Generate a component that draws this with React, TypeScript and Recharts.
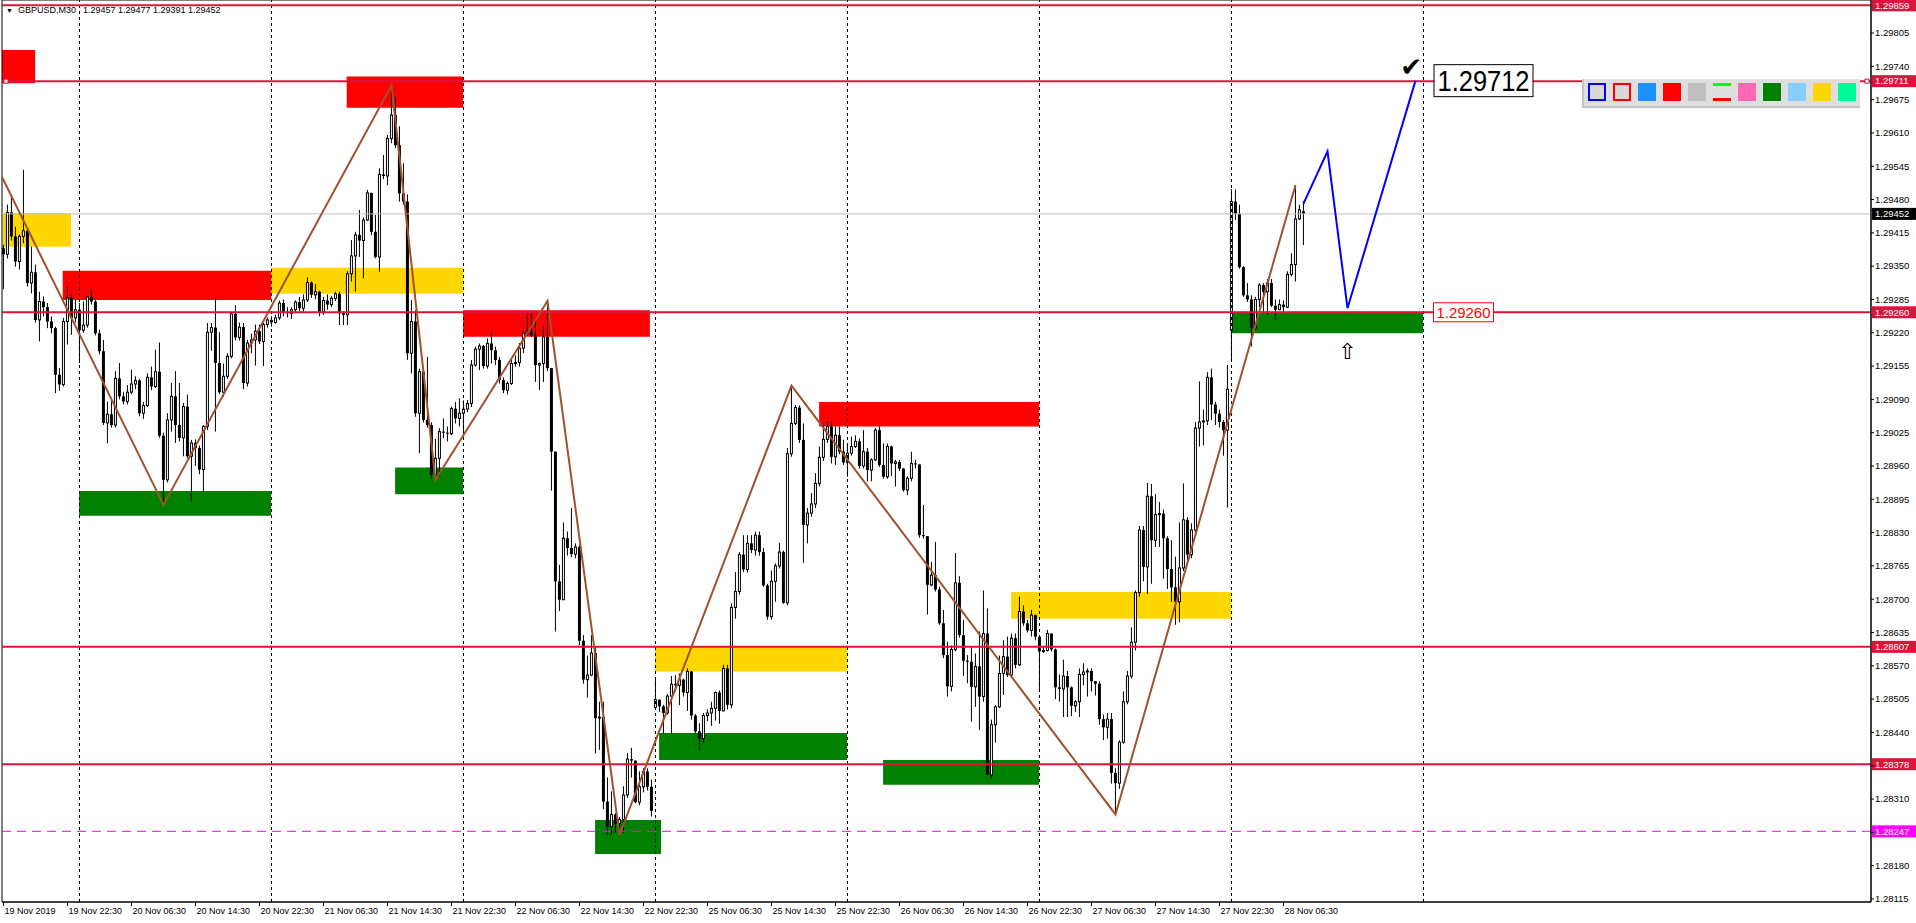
import React from "react"
import {
  ComposedChart,
  Bar,
  Line,
  XAxis,
  YAxis,
  ReferenceLine,
  ReferenceArea,
  ReferenceDot,
} from "recharts"

// prices are kept in points above 1.28000 (1452 -> 1.29452)
const BASE = 1.28
const fmt = (p: number) => (BASE + p / 100000).toFixed(5)

const firstOpen = 1385
// bars where the open does not follow the previous close (weekend / daily gaps)
const gapOpens: Record<number, number> = { 163: 489, 307: 1225, 325: 1457 }

// GBPUSD M30 bars as [close, high, low]
const nov19 = [
  [1373, 1392, 1305], [1455, 1470, 1365], [1408, 1486, 1400], [1359, 1427, 1349], [1408, 1412, 1343],
  [1419, 1538, 1395], [1317, 1422, 1310], [1338, 1388, 1297], [1245, 1353, 1240], [1281, 1300, 1203],
  [1270, 1291, 1252], [1242, 1278, 1229], [1229, 1252, 1219], [1138, 1232, 1102], [1119, 1151, 1107],
  [1242, 1249, 1115], [1288, 1310, 1197], [1249, 1295, 1216], [1265, 1285, 1240],
]
const nov20 = [
  [1225, 1278, 1161], [1235, 1281, 1220], [1290, 1292, 1230], [1281, 1304, 1275], [1219, 1284, 1215],
  [1184, 1226, 1178], [1044, 1206, 1040], [1061, 1086, 1004], [1040, 1090, 1035], [1131, 1145, 1035],
  [1096, 1161, 1090], [1086, 1105, 1080], [1104, 1118, 1080], [1120, 1148, 1100], [1127, 1135, 1110],
  [1063, 1130, 1057], [1078, 1085, 1052], [1133, 1141, 1075], [1115, 1154, 1108], [1144, 1187, 1112],
  [1019, 1201, 1015], [933, 1025, 884], [1050, 1063, 928], [1096, 1122, 1027], [1040, 1145, 1005],
  [1015, 1122, 1008], [1076, 1083, 979], [979, 1099, 975], [1005, 1011, 891], [995, 1012, 960],
  [953, 1000, 944], [1037, 1040, 910], [1221, 1239, 1030], [1230, 1239, 1185], [1161, 1288, 1027],
  [1104, 1221, 1100], [1135, 1160, 1095], [1174, 1180, 1130], [1257, 1260, 1170], [1211, 1274, 1205],
  [1231, 1240, 1205], [1122, 1239, 1110], [1200, 1206, 1115], [1206, 1218, 1180], [1223, 1236, 1156],
  [1203, 1236, 1198], [1236, 1240, 1155], [1245, 1250, 1230],
]
const nov21 = [
  [1240, 1252, 1232], [1249, 1255, 1238], [1278, 1283, 1245], [1260, 1285, 1252], [1258, 1270, 1250],
  [1265, 1270, 1247], [1280, 1283, 1258], [1268, 1290, 1262], [1284, 1295, 1260], [1318, 1328, 1280],
  [1294, 1320, 1288], [1300, 1315, 1285], [1261, 1302, 1252], [1283, 1290, 1255], [1275, 1295, 1265],
  [1287, 1292, 1270], [1296, 1300, 1282], [1258, 1300, 1235], [1255, 1262, 1235], [1335, 1340, 1235],
  [1370, 1401, 1320], [1411, 1417, 1300], [1400, 1460, 1368], [1440, 1445, 1326], [1493, 1499, 1438],
  [1417, 1493, 1410], [1368, 1450, 1365], [1529, 1541, 1339], [1526, 1567, 1520], [1599, 1606, 1508],
  [1645, 1703, 1590], [1586, 1681, 1580], [1492, 1623, 1476], [1476, 1551, 1470], [1180, 1490, 1167],
  [1242, 1284, 1141], [1063, 1264, 1056], [1144, 1150, 985], [1050, 1150, 1045], [1040, 1173, 1035],
  [943, 1045, 935], [975, 1013, 933], [1027, 1034, 940], [1025, 1053, 1014], [1023, 1037, 1008],
  [1072, 1076, 1020], [1053, 1085, 1043], [1063, 1092, 1037],
]
const nov22 = [
  [1071, 1088, 1028], [1082, 1089, 1065], [1157, 1167, 1075], [1188, 1193, 1154], [1194, 1199, 1147],
  [1155, 1196, 1150], [1199, 1209, 1150], [1186, 1222, 1160], [1167, 1193, 1157], [1128, 1173, 1121],
  [1108, 1133, 1102], [1121, 1125, 1100], [1160, 1170, 1118], [1162, 1176, 1154], [1190, 1200, 1154],
  [1219, 1225, 1180], [1222, 1261, 1215], [1215, 1261, 1212], [1157, 1242, 1124], [1160, 1162, 1108],
  [1212, 1235, 1124], [1151, 1282, 1145], [988, 1151, 912], [735, 988, 637], [699, 767, 677],
  [819, 850, 699], [800, 832, 785], [788, 878, 782], [802, 809, 780], [619, 806, 610],
  [543, 630, 535], [552, 590, 508], [595, 630, 550], [468, 608, 399], [470, 500, 406],
  [305, 500, 290], [256, 352, 240], [280, 325, 240], [262, 283, 244], [270, 275, 240],
  [318, 335, 244], [388, 400, 312], [385, 410, 352], [304, 364, 302], [334, 364, 298],
  [364, 370, 323], [334, 370, 327], [287, 348, 276],
]
const nov25 = [
  [504, 547, 486], [491, 494, 480], [478, 494, 438], [511, 515, 475], [534, 550, 438],
  [532, 552, 520], [543, 555, 493], [518, 545, 510], [559, 565, 482], [473, 560, 465],
  [442, 476, 438], [428, 458, 406], [473, 478, 420], [478, 485, 462], [487, 500, 453],
  [518, 520, 463], [482, 522, 457], [565, 572, 482], [494, 572, 485], [684, 692, 487],
  [715, 753, 662], [787, 792, 709], [758, 825, 753], [809, 825, 752], [796, 825, 790],
  [825, 832, 785], [792, 832, 785], [727, 800, 724], [666, 730, 660], [735, 756, 660],
  [765, 770, 695], [792, 810, 760], [693, 795, 691], [984, 995, 688], [1043, 1117, 978],
  [1074, 1079, 1040], [1011, 1078, 1005], [845, 1043, 771], [868, 878, 809], [886, 907, 861],
  [926, 946, 878], [977, 998, 920], [1012, 1043, 970], [1037, 1047, 1005], [978, 1047, 965],
  [1020, 1037, 962], [988, 1037, 983], [967, 1011, 962],
]
const nov26 = [
  [985, 1004, 939], [998, 1017, 980], [1008, 1020, 995], [960, 1014, 955], [988, 1030, 955],
  [952, 995, 930], [972, 975, 930], [1030, 1034, 970], [962, 1037, 958], [939, 1004, 935],
  [998, 1004, 935], [965, 1000, 940], [968, 972, 920], [955, 972, 950], [913, 956, 910],
  [936, 940, 903], [965, 988, 930], [963, 972, 955], [825, 960, 820], [823, 884, 818],
  [728, 815, 670], [747, 773, 725], [719, 812, 715], [653, 724, 650], [591, 679, 585],
  [530, 617, 510], [602, 610, 520], [732, 790, 598], [630, 745, 625], [580, 660, 550],
  [578, 591, 536], [529, 607, 461], [569, 594, 490], [510, 637, 445], [633, 717, 500],
  [357, 682, 357], [455, 465, 350], [490, 493, 420], [555, 590, 488], [588, 620, 513],
  [552, 627, 548], [624, 633, 548], [572, 633, 565], [676, 705, 570], [653, 688, 648],
  [639, 660, 635], [669, 679, 627], [627, 670, 620],
]
const nov27 = [
  [598, 630, 523], [600, 607, 595], [633, 640, 598], [602, 633, 598], [528, 604, 505],
  [525, 553, 500], [550, 582, 470], [528, 560, 470], [492, 530, 472], [500, 503, 480],
  [553, 565, 470], [558, 575, 532], [560, 565, 510], [540, 565, 520], [535, 540, 512],
  [466, 540, 455], [450, 475, 425], [466, 478, 428], [361, 478, 340], [341, 370, 280],
  [421, 425, 330], [500, 520, 418], [550, 560, 495], [616, 645, 545], [713, 717, 600],
  [835, 843, 705], [763, 843, 735], [901, 927, 710], [815, 925, 730], [865, 905, 802],
  [867, 890, 802], [819, 875, 740], [759, 823, 720], [723, 815, 695], [695, 783, 650],
  [761, 850, 655], [855, 926, 755], [787, 860, 767], [835, 848, 780], [1034, 1046, 825],
  [1046, 1125, 998], [1048, 1070, 1000], [1133, 1143, 1040], [1080, 1150, 1050], [1062, 1085, 1040],
  [1046, 1070, 1035], [1030, 1050, 980], [1110, 1157, 879],
]
const nov28 = [
  [1476, 1500, 1165], [1452, 1500, 1440], [1348, 1470, 1345], [1293, 1350, 1290], [1285, 1317, 1280],
  [1229, 1293, 1193], [1285, 1290, 1225], [1313, 1317, 1270], [1300, 1317, 1260], [1317, 1325, 1255],
  [1273, 1325, 1270], [1265, 1285, 1245], [1275, 1285, 1265], [1270, 1283, 1258], [1334, 1340, 1268],
  [1353, 1375, 1330], [1442, 1508, 1320], [1460, 1470, 1440], [1452, 1477, 1391],
]
const days = [nov19, nov20, nov21, nov22, nov25, nov26, nov27, nov28]

// time axis: one label every 16 bars, day boundaries every 48 bars
const timeTicks = [0, 16, 32, 48, 64, 80, 96, 112, 128, 144, 160, 176, 192, 208, 224, 240, 256, 272, 288, 304, 320]
const timeLabels = [
  "19 Nov 2019", "19 Nov 22:30", "20 Nov 06:30", "20 Nov 14:30", "20 Nov 22:30", "21 Nov 06:30",
  "21 Nov 14:30", "21 Nov 22:30", "22 Nov 06:30", "22 Nov 14:30", "22 Nov 22:30", "25 Nov 06:30",
  "25 Nov 14:30", "25 Nov 22:30", "26 Nov 06:30", "26 Nov 14:30", "26 Nov 22:30", "27 Nov 06:30",
  "27 Nov 14:30", "27 Nov 22:30", "28 Nov 06:30",
]
const dayStarts = [19, 67, 115, 163, 211, 259, 307, 355]
const priceTicks = [
  115, 180, 245, 310, 375, 440, 505, 570, 635, 700, 765, 830, 895, 960,
  1025, 1090, 1155, 1220, 1285, 1350, 1415, 1480, 1545, 1610, 1675, 1740, 1805,
]

// horizontal levels
const redLevels = [1859, 1711, 1260, 607, 378]
const bidLevel = 1452
const alertLevel = 247

// zigzag and the hand-drawn forecast
const zigzagBars = [-0.375, 40, 97, 108, 136, 154, 197, 278, 323]
const zigzagPrices = [1524, 884, 1703, 933, 1282, 240, 1117, 280, 1508]
const forecastBars = [325, 331, 336, 353]
const forecastPrices = [1472, 1574, 1268, 1712]

// zones as [fromBar, toBar, low, high]
const supplyZones = [
  [-0.375, 7.9, 1707, 1772], [14.8, 66.9, 1284, 1341], [85.8, 114.9, 1659, 1720],
  [114.9, 161.6, 1212, 1264], [203.9, 258.9, 1037, 1085],
]
const pivotZones = [
  [-0.1, 16.9, 1388, 1453], [66.9, 114.9, 1296, 1347], [162.9, 210.9, 559, 608], [251.9, 306.9, 662, 714],
]
const demandZones = [
  [18.9, 66.9, 863, 911], [97.9, 114.9, 905, 957], [147.9, 164.4, 203, 269],
  [163.9, 210.9, 386, 439], [219.9, 258.9, 338, 386], [306.9, 354.9, 1219, 1261],
]

const paletteSwatches = ["#0000ff", "#ff0000", "#1e90ff", "#ff0000", "#c0c0c0", "lines", "#ff69b4", "#008000", "#87cefa", "#ffd700", "#00fa9a"]

const CRIMSON = "#dc143c"
const X_DOMAIN = [-0.375, 466.875]
const Y_DOMAIN = [109.1, 1869.4]
const FONT = "'Liberation Sans', Arial, sans-serif"
const tagged = [...redLevels, bidLevel, alertLevel]

const candles: { i: number; o: number; c: number; h: number; l: number; range: number[] }[] = []
{
  let prev = firstOpen
  let i = 0
  for (const day of days) {
    for (const [c, h, l] of day) {
      const o = gapOpens[i] ?? prev
      const hi = Math.max(h, o, c)
      const lo = Math.min(l, o, c)
      candles.push({ i, o, c, h: hi, l: lo, range: [lo, hi] })
      prev = c
      i++
    }
  }
}
const zigzag = zigzagBars.map((i, k) => ({ i, p: zigzagPrices[k] }))
const forecast = forecastBars.map((i, k) => ({ i, p: forecastPrices[k] }))

function Candle(props: any) {
  const { x, y, width, height, payload } = props
  if (x == null || !payload) return null
  const { o, c, h, l } = payload
  const top = Math.min(y, y + height)
  const span = Math.abs(height)
  const k = h > l ? span / (h - l) : 0
  const py = (p: number) => top + (h - p) * k
  const cx = x + width / 2
  const bTop = py(Math.max(o, c))
  const bH = Math.max(py(Math.min(o, c)) - bTop, 1)
  return (
    <g>
      <line x1={cx} x2={cx} y1={top} y2={top + span} stroke="#000" strokeWidth={1} />
      {c > o ? (
        <rect x={cx - 1} y={bTop} width={2} height={bH} fill="#fff" stroke="#000" strokeWidth={1} />
      ) : (
        <rect x={cx - 1.5} y={bTop} width={3} height={bH} fill="#000" />
      )}
    </g>
  )
}

// level line with its price tag on the axis
function levelShape(value: number, color: string, tag: string, opts: { width?: number; dash?: string; marked?: boolean } = {}) {
  return (props: any) => {
    const left = Math.min(props.x1, props.x2)
    const right = Math.max(props.x1, props.x2)
    const y = props.y1
    return (
      <g>
        <line x1={left} x2={right} y1={y} y2={y} stroke={color} strokeWidth={opts.width ?? 2} strokeDasharray={opts.dash} />
        {opts.marked && (
          <>
            <rect x={left + 2} y={y - 2} width={4} height={4} fill="#fff" stroke={color} strokeWidth={1} />
            <rect x={right - 6} y={y - 2} width={4} height={4} fill="#fff" stroke={color} strokeWidth={1} />
          </>
        )}
        <rect x={right + 1} y={y - 6} width={44} height={12} fill={tag} />
        <text x={right + 4} y={y} dy="0.35em" fontSize={9.5} fill="#fff">{fmt(value)}</text>
      </g>
    )
  }
}

// price labels hidden behind a level tag are not drawn
function PriceTick(props: any) {
  const { x, y, payload } = props
  if (tagged.some((v) => Math.abs(v - payload.value) < 12)) return null
  return (
    <text x={x} y={y} dy="0.35em" fontSize={9.5} fill="#000">{fmt(payload.value)}</text>
  )
}

function TimeTick(props: any) {
  const { x, y, payload } = props
  const label = timeLabels[timeTicks.indexOf(payload.value)]
  return (
    <text x={x + 1} y={y} dy="0.71em" fontSize={9} fill="#000">{label}</text>
  )
}

export default function App() {
  return (
    <div style={{ position: "relative", width: 1916, height: 923, background: "#fff", fontFamily: FONT }}>
      <style>{"body{margin:0}"}</style>
      <ComposedChart width={1916} height={923} data={candles} margin={{ top: 0, right: 0, bottom: 0, left: 2 }}>
        <XAxis
          dataKey="i"
          type="number"
          domain={X_DOMAIN}
          allowDataOverflow
          ticks={timeTicks}
          interval={0}
          height={21}
          tickSize={4}
          tickMargin={2}
          axisLine={{ stroke: "#000" }}
          tickLine={{ stroke: "#000" }}
          tick={<TimeTick />}
        />
        <YAxis
          orientation="right"
          type="number"
          domain={Y_DOMAIN}
          allowDataOverflow
          ticks={priceTicks}
          interval={0}
          width={45}
          tickSize={3}
          tickMargin={1}
          tick={<PriceTick />}
          axisLine={{ stroke: "#000" }}
          tickLine={{ stroke: "#000" }}
        />

        {supplyZones.map(([a, b, lo, hi], k) => (
          <ReferenceArea key={"s" + k} x1={a} x2={b} y1={lo} y2={hi} fill="#ff0000" fillOpacity={1} stroke="none" ifOverflow="visible" />
        ))}
        {pivotZones.map(([a, b, lo, hi], k) => (
          <ReferenceArea key={"p" + k} x1={a} x2={b} y1={lo} y2={hi} fill="#ffd700" fillOpacity={1} stroke="none" ifOverflow="visible" />
        ))}
        {demandZones.map(([a, b, lo, hi], k) => (
          <ReferenceArea key={"d" + k} x1={a} x2={b} y1={lo} y2={hi} fill="#008000" fillOpacity={1} stroke="none" ifOverflow="visible" />
        ))}

        {dayStarts.map((d) => (
          <ReferenceLine key={"g" + d} x={d} stroke="#000" strokeWidth={1} strokeDasharray="3 3" />
        ))}

        <ReferenceLine y={bidLevel} shape={levelShape(bidLevel, "#c0c0c0", "#000", { width: 1 })} />
        <ReferenceLine y={alertLevel} shape={levelShape(alertLevel, "#ff00ff", "#ff00ff", { width: 1, dash: "9 6" })} />
        {redLevels.map((v) => (
          <ReferenceLine key={"r" + v} y={v} shape={levelShape(v, CRIMSON, CRIMSON, { marked: v === 1711 })} />
        ))}

        <Bar dataKey="range" barSize={3} shape={<Candle />} isAnimationActive={false} />

        <Line data={zigzag} dataKey="p" type="linear" stroke="#a0522d" strokeWidth={2} dot={false} activeDot={false} isAnimationActive={false} />
        <Line data={forecast} dataKey="p" type="linear" stroke="#0000ff" strokeWidth={2} dot={false} activeDot={false} isAnimationActive={false} />

        <ReferenceDot
          x={351.9}
          y={1739}
          r={0}
          ifOverflow="visible"
          shape={(p: any) => (
            <text x={p.cx} y={p.cy} dy="0.35em" textAnchor="middle" fontSize={26} fontFamily="'DejaVu Sans'" fill="#000">✔</text>
          )}
        />
        <ReferenceDot
          x={370}
          y={1712}
          r={0}
          ifOverflow="visible"
          shape={(p: any) => (
            <g>
              <rect x={p.cx - 49.5} y={p.cy - 16} width={99} height={32} fill="#fff" stroke="#000" strokeWidth={1} />
              <text x={p.cx} y={p.cy} dy="0.36em" textAnchor="middle" fontSize={30} fill="#000" textLength={92} lengthAdjust="spacingAndGlyphs">1.29712</text>
            </g>
          )}
        />
        <ReferenceDot
          x={365}
          y={1260}
          r={0}
          ifOverflow="visible"
          shape={(p: any) => (
            <g>
              <rect x={p.cx - 30} y={p.cy - 9.5} width={60} height={19} fill="#fff" stroke="#ff0000" strokeWidth={1} />
              <text x={p.cx} y={p.cy} dy="0.36em" textAnchor="middle" fontSize={15} fill="#ff0000" textLength={54} lengthAdjust="spacingAndGlyphs">1.29260</text>
            </g>
          )}
        />
        <ReferenceDot
          x={335.9}
          y={1184}
          r={0}
          ifOverflow="visible"
          shape={(p: any) => (
            <text x={p.cx} y={p.cy} dy="0.35em" textAnchor="middle" fontSize={22} fontFamily="'DejaVu Sans'" fill="#000">⇧</text>
          )}
        />
        <ReferenceArea x1={X_DOMAIN[0]} x2={X_DOMAIN[1]} y1={Y_DOMAIN[0]} y2={Y_DOMAIN[1]} fill="none" stroke="#000" strokeWidth={1} ifOverflow="visible" />
      </ComposedChart>

      {/* chart caption */}
      <div style={{ position: "absolute", left: 6, top: 5, fontSize: 9, lineHeight: "11px", whiteSpace: "pre", color: "#000" }}>
        <span style={{ fontSize: 7 }}>▼</span>
        <span style={{ marginLeft: 5 }}>GBPUSD,M30</span>
        <span style={{ marginLeft: 7 }}>1.29457 1.29477 1.29391 1.29452</span>
      </div>

      {/* colour toolbar */}
      <div style={{ position: "absolute", left: 1582, top: 79, width: 278, height: 29, background: "#dedede", borderLeft: "2px solid #c4c4c4", borderBottom: "2px solid #c4c4c4", boxSizing: "border-box" }}>
        {paletteSwatches.map((c, k) => {
          const base: React.CSSProperties = { position: "absolute", left: 4 + k * 25, top: 4, width: 18, height: 18, boxSizing: "border-box" }
          if (k < 2) return <div key={k} style={{ ...base, background: "#d8d8d8", border: `2px solid ${c}` }} />
          if (c === "lines")
            return (
              <div key={k} style={base}>
                <div style={{ position: "absolute", left: 0, top: 0, width: 18, height: 3, background: "#00ff00" }} />
                <div style={{ position: "absolute", left: 0, top: 15, width: 18, height: 3, background: "#ff0000" }} />
              </div>
            )
          return <div key={k} style={{ ...base, background: c }} />
        })}
      </div>
    </div>
  )
}
